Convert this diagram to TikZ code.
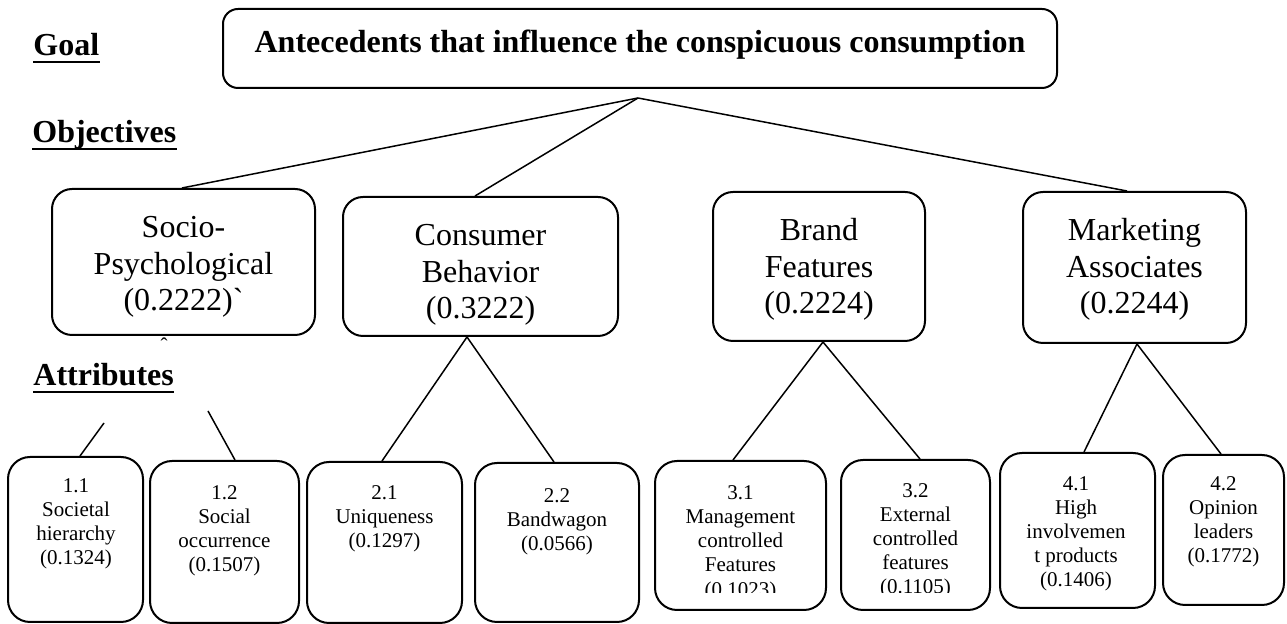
\documentclass[tikz,border=0pt]{standalone}
\usepackage{fontspec}
\setmainfont{Liberation Serif}
\usetikzlibrary{calc,fit}
\begin{document}
\begin{tikzpicture}[x=0.5pt,y=-0.5pt,
  box/.style={draw, line width=1pt, inner sep=0pt},
  goalbox/.style={box, rounded corners=7.5pt},
  objbox/.style={box, rounded corners=10pt},
  attbox/.style={box, rounded corners=11pt},
  objtxt/.style={anchor=north, align=center, inner sep=0pt, font=\fontsize{16}{18.25}\selectfont},
  atttxt/.style={anchor=north, align=center, inner sep=0pt, font=\fontsize{10.5}{12.1}\selectfont},
  lvl/.style={anchor=base west, inner sep=0pt, font=\fontsize{16}{18}\selectfont\bfseries},
  uline/.style={line width=1.3pt},
  link/.style={line width=0.75pt}]
\useasboundingbox (0,0) rectangle (1287,624);

% level labels
\node[lvl] (lgoal) at (33,56) {Goal};
\node[lvl] (lobj) at (32,143) {Objectives};
\node[lvl] (latt) at (33,386) {Attributes};
\draw[uline] ($(lgoal.base west)+(0,6)$) -- ($(lgoal.base east)+(0,6)$);
\draw[uline] ($(lobj.base west)+(0,6)$) -- ($(lobj.base east)+(0,6)$);
\draw[uline] ($(latt.base west)+(0,6)$) -- ($(latt.base east)+(0,6)$);

% goal
\node[goalbox, fit={(223,9) (1057,88)}] (goal) {};
\node[anchor=base, inner sep=0pt, font=\fontsize{16}{18}\selectfont\bfseries] (goaltxt) at (640,53)
  {Antecedents that influence the conspicuous consumption};
\coordinate (apex) at ($(goal.south)+(-2,9)$);

% objectives
\node[objbox, fit={(52,189) (315,335)}] (socio) {};
\node[objbox, fit={(343,197) (618,336)}] (consumer) {};
\node[objbox, fit={(713,192) (925,341)}] (brand) {};
\node[objbox, fit={(1023,192) (1246,343)}] (marketing) {};
\node[objtxt] (sociotxt) at (183.5,216) {Socio-\\Psychological\\(0.2222)\textasciigrave};
\node[objtxt] (consumertxt) at (480.5,224) {Consumer\\Behavior\\(0.3222)};
\node[objtxt] (brandtxt) at (819,218) {Brand\\Features\\(0.2224)};
\node[objtxt] (marketingtxt) at (1134.5,218) {Marketing\\Associates\\(0.2244)};
\node[anchor=north, inner sep=0pt, font=\fontsize{10.5}{12}\selectfont] (caret) at (164,337) {ˆ};

% attributes
\node[attbox, fit={(8,457) (143,622)}] (b11) {};
\node[attbox, fit={(150,461) (299,623)}] (b12) {};
\node[attbox, fit={(307,462) (462,623)}] (b21) {};
\node[attbox, fit={(475,463) (639,622)}] (b22) {};
\node[attbox, fit={(655,461) (826,610)}] (b31) {};
\node[attbox, fit={(841,460) (990,610)}] (b32) {};
\node[attbox, fit={(1000,453) (1155,608)}] (b41) {};
\node[attbox, fit={(1163,455) (1284,605)}] (b42) {};

\node[atttxt] (t11) at (76,477.9) {1.1\\Societal\\hierarchy\\(0.1324)};
\node[atttxt] (t12) at (224.5,484.9) {1.2\\Social\\occurrence\\(0.1507)};
\node[atttxt] (t21) at (384.5,484.9) {2.1\\Uniqueness\\(0.1297)};
\node[atttxt] (t22) at (557,487.9) {2.2\\Bandwagon\\(0.0566)};
\begin{scope}
\clip (645,450) rectangle (1000,593);
\node[atttxt] (t31) at (740.5,484.9) {3.1\\Management\\controlled\\Features\\(0.1023)};
\node[atttxt] (t32) at (915.5,482.9) {3.2\\External\\controlled\\features\\(0.1105)};
\end{scope}
\node[atttxt] (t41) at (1076,475.9) {4.1\\High\\involvemen\\t products\\(0.1406)};
\node[atttxt] (t42) at (1223.5,475.9) {4.2\\Opinion\\leaders\\(0.1772)};

% connectors
\draw[link] (apex) -- ($(socio.north)+(-1.5,0)$);
\draw[link] (apex) -- ($(consumer.north)+(-5.5,0)$);
\draw[link] (apex) -- ($(marketing.north)+(-7.5,0)$);
\draw[link] ($(b21.north)+(-2.5,0)$) -- ($(consumer.south)+(-13.5,0)$) -- ($(b22.north)+(-3,0)$);
\draw[link] ($(b31.north)+(-7.5,0)$) -- ($(brand.south)+(4,0)$) -- ($(b32.north)+(4.5,0)$);
\draw[link] ($(b41.north)+(6.5,0)$) -- ($(marketing.south)+(2.5,0)$) -- ($(b42.north)+(-2.5,0)$);
\coordinate (f1) at (104,423);
\coordinate (f2) at (208,411);
\draw[link] (f1) -- ($(b11.north)+(4.5,0)$);
\draw[link] (f2) -- ($(b12.north)+(10.5,0)$);
\end{tikzpicture}
\end{document}
